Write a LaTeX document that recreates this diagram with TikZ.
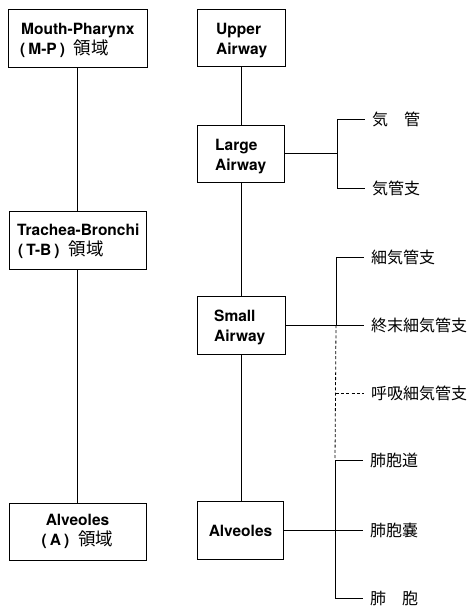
\documentclass[tikz,border=0pt]{standalone}
\usepackage{fontspec}
\setmainfont{TeX Gyre Heros}
\newfontfamily\cjk{Noto Sans CJK JP}
\begin{document}
\begin{tikzpicture}[x=1pt,y=-1pt,
  box/.style={draw,line width=1pt,inner sep=0pt},
  t/.style={inner sep=0pt,font=\fontsize{15.5}{20}\selectfont\bfseries},
  tw/.style={t,anchor=base west},
  tc/.style={t,anchor=base},
  lab/.style={anchor=west,inner sep=0pt,font=\fontsize{16}{16}\cjk},
  con/.style={line width=0.9pt},
  br/.style={con,shorten >=7pt},
  dsh/.style={line width=0.8pt,dash pattern=on 3pt off 2.2pt}
]
\useasboundingbox (0,0) rectangle (469,607);
\newcommand{\ry}{{\fontsize{17.5}{20}\cjk\mdseries 領域}}
\newcommand{\pr}[1]{(\hspace{3pt}#1\hspace{3pt})\hspace{9pt}\ry}
% left column boxes
\node[box,minimum width=139pt,minimum height=58pt] (mp) at (77.5,39) {};
\node[box,minimum width=137pt,minimum height=58pt] (tb) at (77.5,240) {};
\node[box,minimum width=137pt,minimum height=57pt] (al) at (77.5,531.5) {};
\node[tw] (mp1) at (21,35) {Mouth-Pharynx};
\node[tw] (mp2) at (20,54.5) {\pr{M-P}};
\node[tw] (tb1) at (17,235) {Trachea-Bronchi};
\node[tw] (tb2) at (18,255) {\pr{T-B}};
\node[tc] (al1) at (77.5,525.5) {Alveoles};
\node[tc] (al2) at (77.5,545) {\pr{A}};
\draw[con] (mp.south) -- (tb.north);
\draw[con] (tb.south) -- (al.north);
% right column boxes
\node[box,minimum width=88pt,minimum height=57pt] (up) at (241,38.5) {};
\node[box,minimum width=87pt,minimum height=57pt] (la) at (241,153.5) {};
\node[box,minimum width=88pt,minimum height=58pt] (sm) at (241,325) {};
\node[box,minimum width=86pt,minimum height=58pt] (ar) at (240.5,530) {};
\node[tw] (up1) at (216,35) {Upper};
\node[tw] (up2) at (216,55) {Airway};
\node[tw] (la1) at (215,150) {Large};
\node[tw] (la2) at (215,170) {Airway};
\node[tw] (sm1) at (214,321) {Small};
\node[tw] (sm2) at (214,341) {Airway};
\node[tc] (ar1) at (240.5,536) {Alveoles};
\draw[con] (up.south) -- (la.north);
\draw[con] (la.south) -- (sm.north);
\draw[con] (sm.south) -- (sm.south |- ar.north);
% labels
\node[lab] (k1) at (372,119) {気\hspace{16pt}管};
\node[lab] (k2) at (372,188) {気管支};
\node[lab] (s1) at (371,257) {細気管支};
\node[lab] (s2) at (371,325) {終末細気管支};
\node[lab] (s3) at (371,393) {呼吸細気管支};
\node[lab] (a1) at (370,460) {肺胞道};
\node[lab] (a2) at (370,530) {肺胞嚢};
\node[lab] (a3) at (370,598) {肺\hspace{16pt}胞};
% large airway branch
\coordinate (lj) at (337,153.5);
\draw[con] (la.east) -- (lj);
\draw[br] (lj) |- (k1.west);
\draw[br] (lj) |- (k2.west);
% small airway branch
\coordinate (sj) at (336,325);
\draw[br] (sm.east) -- (s2.west);
\draw[br] (sj) |- (s1.west);
\coordinate (at) at (335,460);
\draw[dsh] (sj) -- (at);
\draw[dsh,shorten >=7pt] (sj |- s3.west) -- (s3.west);
% alveoles branch
\draw[br] (at) -- (a1.west);
\draw[br] (at) |- (a3.west);
\draw[br] (ar.east) -- (a2.west);
\end{tikzpicture}
\end{document}
